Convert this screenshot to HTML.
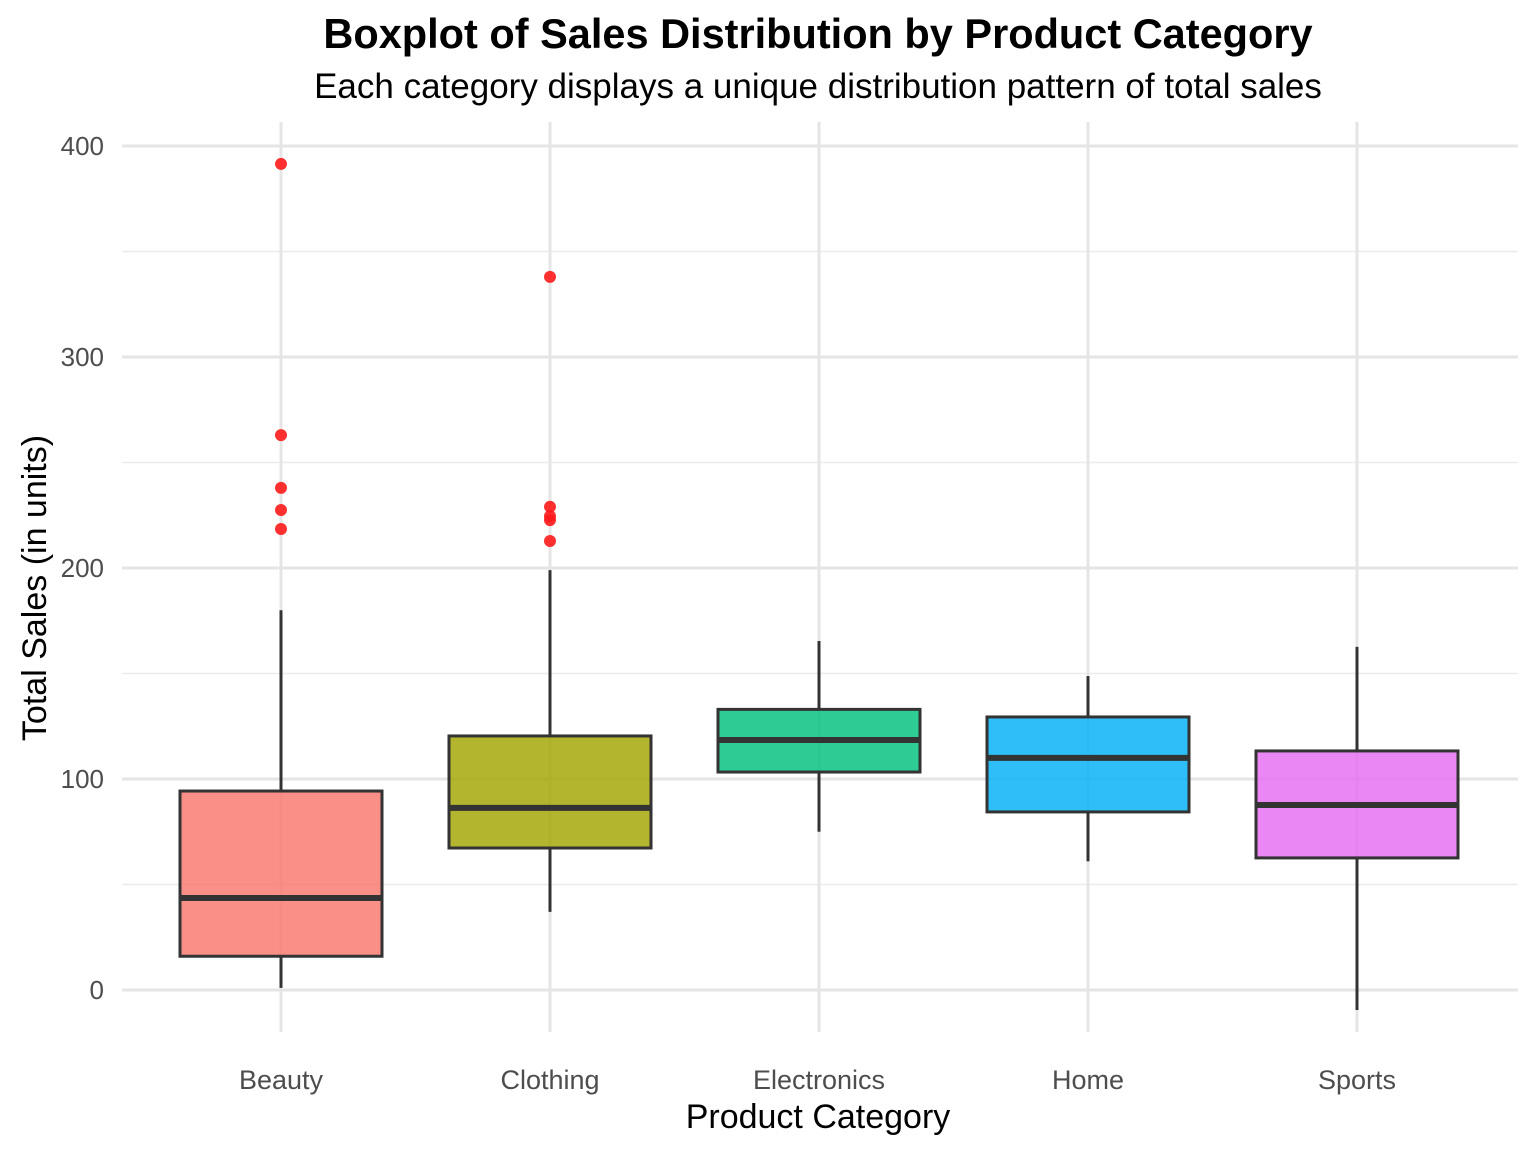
<!DOCTYPE html>
<html><head><meta charset="utf-8"><style>
html,body{margin:0;padding:0;background:#fff;}
svg{display:block;font-family:"Liberation Sans",Arial,sans-serif;}
</style></head><body>
<svg id="chart" width="1536" height="1152" viewBox="0 0 1536 1152">
<text x="818" y="48" text-anchor="middle" font-size="41.5" font-weight="bold" fill="#000">Boxplot of Sales Distribution by Product Category</text>
<text x="818" y="98" text-anchor="middle" font-size="35" fill="#000">Each category displays a unique distribution pattern of total sales</text>
<g id="grid"></g>
<g id="marks"></g>
<g id="axes"></g>
<text x="818" y="1128" text-anchor="middle" font-size="34" fill="#000">Product Category</text>
<text transform="translate(46,588) rotate(-90)" text-anchor="middle" font-size="34" fill="#000">Total Sales (in units)</text>
</svg>
<script>
const categories = ["Beauty","Clothing","Electronics","Home","Sports"];
const whiskerLow = [1, 37, 75, 61, -9.5];
const q1 = [16, 67.3, 103.3, 84.4, 62.6];
const medians = [43.6, 86.3, 118.5, 110, 87.7];
const q3 = [94.3, 120.4, 133, 129.4, 113.3];
const whiskerHigh = [180, 199, 165.4, 148.8, 162.6];
const outliers = [[391.5, 263, 238, 227.5, 218.5],[338, 229, 224.6, 222.7, 212.8],[],[],[]];
const colors = ["#F8766D","#A3A500","#00BF7D","#00B0F6","#E76BF3"];
const yTicks = [0,100,200,300,400];
const yMinor = [50,150,250,350];

const NS="http://www.w3.org/2000/svg";
const plotL=122, plotR=1518, plotT=122, plotB=1032;
function y(v){return 990 - v*2.11;}
function x(i){return 281 + i*269;}
function mk(tag,attrs,parent){const e=document.createElementNS(NS,tag);for(const k in attrs)e.setAttribute(k,attrs[k]);parent.appendChild(e);return e;}
const grid=document.getElementById('grid'), marks=document.getElementById('marks'), axes=document.getElementById('axes');

yMinor.forEach(v=>{const l=mk('line',{x1:plotL,x2:plotR,y1:y(v),y2:y(v),stroke:'#ebebeb','stroke-width':1.5},grid);

});
yTicks.forEach(v=>{const l=mk('line',{x1:plotL,x2:plotR,y1:y(v),y2:y(v),stroke:'#e5e5e5','stroke-width':3},grid);


const t=mk('text',{x:104,y:y(v)+9,'text-anchor':'end','font-size':26,fill:'#4d4d4d'},axes);t.textContent=v;

});
categories.forEach((c,i)=>{const l=mk('line',{x1:x(i),x2:x(i),y1:plotT,y2:plotB,stroke:'#e5e5e5','stroke-width':3},grid);


const t=mk('text',{x:x(i),y:1089,'text-anchor':'middle','font-size':27,fill:'#4d4d4d'},axes);t.textContent=c;

});

categories.forEach((c,i)=>{
  const g=mk('g',{},marks);
  
  
  const cx=x(i), hw=101;
  const w1=mk('line',{x1:cx,x2:cx,y1:y(q3[i]),y2:y(whiskerHigh[i]),stroke:'#333','stroke-width':3},g);
  
  
  const w2=mk('line',{x1:cx,x2:cx,y1:y(q1[i]),y2:y(whiskerLow[i]),stroke:'#333','stroke-width':3},g);
  
  
  const r=mk('rect',{x:cx-hw,y:y(q3[i]),width:2*hw,height:y(q1[i])-y(q3[i]),fill:colors[i],'fill-opacity':0.82,stroke:'#333','stroke-width':3},g);
  
  
  const m=mk('line',{x1:cx-hw,x2:cx+hw,y1:y(medians[i]),y2:y(medians[i]),stroke:'#333','stroke-width':6},g);
  
  
  outliers[i].forEach(v=>{const p=mk('circle',{cx:cx,cy:y(v),r:6,fill:'#ff1a1a','fill-opacity':0.9},g);
  
  });
});
</script>
</body></html>
